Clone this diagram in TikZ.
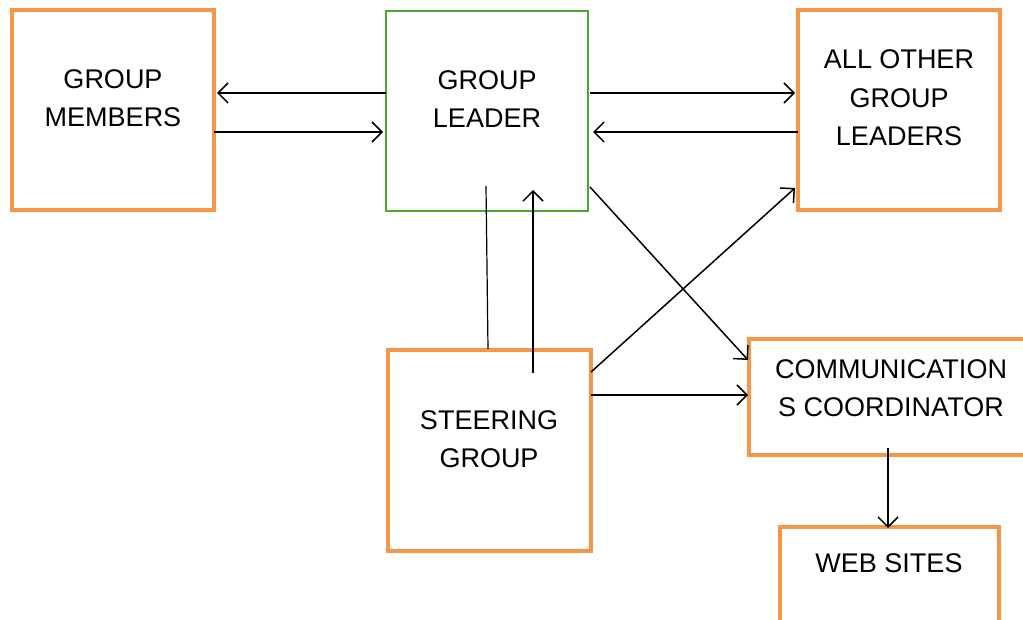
\documentclass[tikz,border=0pt]{standalone}
\usepackage{fontspec}
\setmainfont{Liberation Sans}
\usetikzlibrary{arrows.meta}
\definecolor{boxorange}{HTML}{F79646}
\definecolor{boxgreen}{HTML}{4EA72E}
\begin{document}
\begin{tikzpicture}[x=1pt,y=-1pt,
  obox/.style={draw=boxorange,line width=4.5pt,rectangle,inner sep=0pt},
  gbox/.style={draw=boxgreen,line width=2pt,rectangle,inner sep=0pt},
  lbl/.style={align=center,font=\fontsize{27}{38.5}\selectfont,inner sep=0pt},
  conn/.style={line width=1.5pt,-{Straight Barb[length=10pt,width=20pt,line width=1.5pt]}},
  plain/.style={line width=1.2pt}]
\useasboundingbox[fill=white] (0,0) rectangle (1023,620);
% boxes
\node[obox,minimum width=202pt,minimum height=200pt] (gm) at (113,110) {};
\node[gbox,minimum width=202pt,minimum height=200pt] (gl) at (487,111) {};
\node[obox,minimum width=202pt,minimum height=200pt] (ao) at (899,110) {};
\node[obox,minimum width=203pt,minimum height=201pt] (sg) at (489.5,450.5) {};
\node[obox,minimum width=292pt,minimum height=116pt] (cc) at (895,397) {};
\node[obox,minimum width=219pt,minimum height=126pt] (ws) at (889.5,590) {};
% texts
\node[lbl] (tgm) at (113,98) {GROUP\\MEMBERS};
\node[lbl] (tgl) at (487,99) {GROUP\\LEADER};
\node[lbl] (tao) at (899,98) {ALL OTHER\\GROUP\\LEADERS};
\node[lbl] (tsg) at (489,439) {STEERING\\GROUP};
\node[lbl] (tcc) at (891,388) {COMMUNICATION\\S COORDINATOR};
\node[lbl] (tws) at (889,563) {WEB SITES};
% connector end points
\coordinate (p1a) at (386,93);  \coordinate (p1b) at (217,93);
\coordinate (p2a) at (214,132); \coordinate (p2b) at (383,132);
\coordinate (p3a) at (590,93);  \coordinate (p3b) at (795,93);
\coordinate (p4a) at (798,132); \coordinate (p4b) at (593,132);
\coordinate (p5a) at (486,186); \coordinate (p5b) at (488,349);
\coordinate (p6a) at (533,373); \coordinate (p6b) at (533,190);
\coordinate (p7a) at (590,187); \coordinate (p7b) at (748,360);
\coordinate (p8a) at (591,372); \coordinate (p8b) at (795,188);
\coordinate (p9a) at (591,395); \coordinate (p9b) at (748,395);
\coordinate (p10a) at (888,448); \coordinate (p10b) at (888,528);
% connectors
\draw[conn] (p1a) -- (p1b);
\draw[conn] (p2a) -- (p2b);
\draw[conn] (p3a) -- (p3b);
\draw[conn] (p4a) -- (p4b);
\draw[plain] (p5a) -- (p5b);
\draw[conn] (p6a) -- (p6b);
\draw[conn] (p7a) -- (p7b);
\draw[conn] (p8a) -- (p8b);
\draw[conn] (p9a) -- (p9b);
\draw[conn] (p10a) -- (p10b);
\end{tikzpicture}
\end{document}
